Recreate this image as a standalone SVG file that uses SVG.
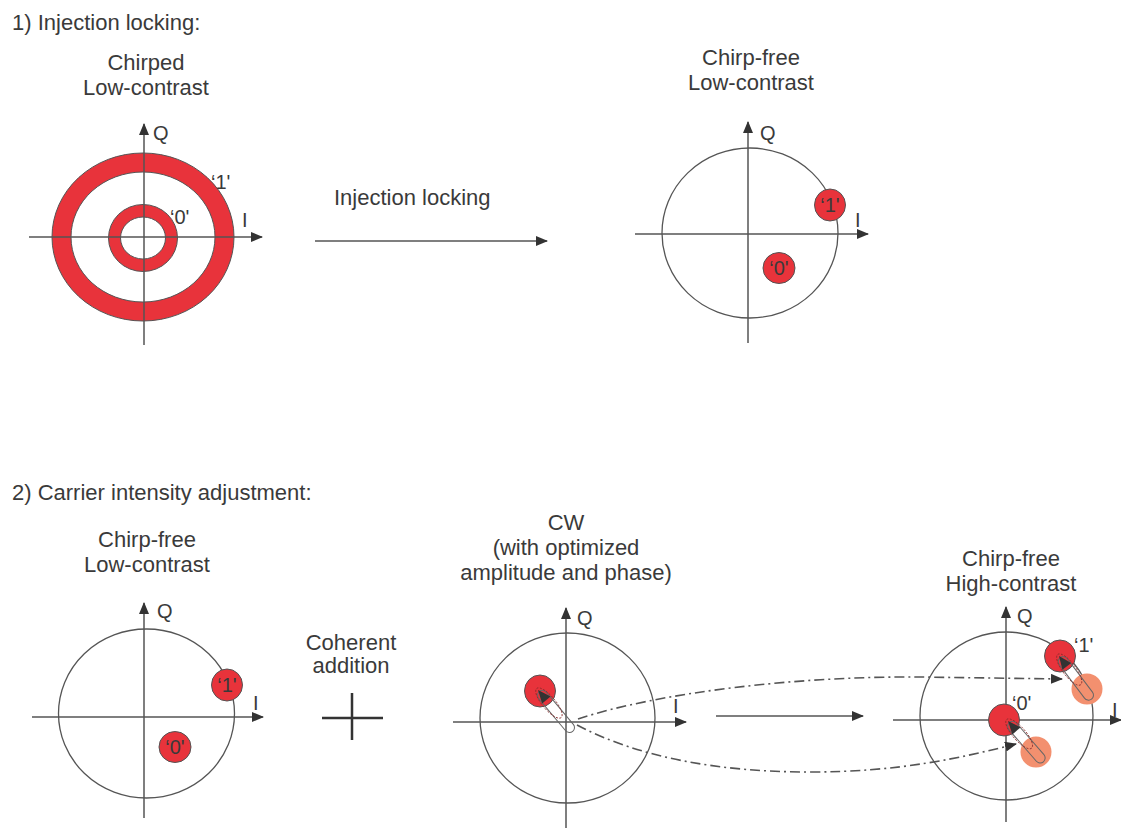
<svg xmlns="http://www.w3.org/2000/svg" xmlns:xlink="http://www.w3.org/1999/xlink" width="1121" height="828" viewBox="0 0 1121 828">
<style>
  text { font-family: "Liberation Sans", Arial, sans-serif; fill: #3a3a3a; }
  .t { font-size: 22px; }
  .c { text-anchor: middle; }
  .ax { font-size: 20px; }
  .q { font-size: 20px; }
  .axis { stroke: #555; stroke-width: 1.5; fill: none; }
  .circ { stroke: #555; stroke-width: 1.3; fill: none; }
  .red { fill: #E8333B; stroke: #555; stroke-width: 1; }
  .pale { fill: #F3906F; }
  .dd { stroke: #555; stroke-width: 1.6; fill: none; stroke-dasharray: 10 4 2 4; }
  .vcap { fill: none; stroke: #666; stroke-width: 1; }
  .vdash { fill: none; stroke: #8a2a2a; stroke-width: 0.9; stroke-dasharray: 2 1.5; }
  .vhead { fill: #333; }
</style>
<defs>
  <marker id="ah" viewBox="0 0 12 10" refX="11" refY="5" markerWidth="12" markerHeight="10" markerUnits="userSpaceOnUse" orient="auto">
    <path d="M0,0 L12,5 L0,10 Z" fill="#333"/>
  </marker>
  <g id="vec">
    <rect x="2" y="-5" width="52" height="10" rx="5" class="vcap"/>
    <ellipse cx="17" cy="0" rx="19" ry="6.5" class="vdash"/>
    <path d="M0,0 L13,-5.5 L13,5.5 Z" class="vhead"/>
  </g>
</defs>

<!-- Section titles -->
<text class="t" x="12" y="30">1) Injection locking:</text>
<text class="t" x="12" y="500">2) Carrier intensity adjustment:</text>

<!-- Top-left: chirped low-contrast -->
<g id="chirped">
  <text class="t c" x="146" y="70">Chirped</text>
  <text class="t c" x="146" y="95">Low-contrast</text>
  <path fill-rule="evenodd" class="red" d="M52,237 A91,84 0 1,0 234,237 A91,84 0 1,0 52,237 Z M71,237 A72,65 0 1,1 215,237 A72,65 0 1,1 71,237 Z"/>
  <path fill-rule="evenodd" class="red" d="M108.5,238 A34.5,33.5 0 1,0 177.5,238 A34.5,33.5 0 1,0 108.5,238 Z M120.5,238 A22.5,21 0 1,1 165.5,238 A22.5,21 0 1,1 120.5,238 Z"/>
  <line class="axis" x1="29" y1="237" x2="262" y2="237" marker-end="url(#ah)"/>
  <line class="axis" x1="144" y1="345" x2="144" y2="124" marker-end="url(#ah)"/>
  <text class="ax" x="153" y="140">Q</text>
  <text class="ax" x="242" y="227">I</text>
  <text class="q" x="211" y="189">‘1'</text>
  <text class="q" x="170" y="224">‘0'</text>
</g>

<!-- Top arrow label -->
<g id="inj-arrow">
  <text class="t" x="334" y="205">Injection locking</text>
</g>

<!-- Top-right: chirp-free low-contrast -->
<g id="chirpfree-top">
  <text class="t c" x="751" y="65">Chirp-free</text>
  <text class="t c" x="751" y="90">Low-contrast</text>
  <ellipse class="circ" cx="750" cy="233" rx="88" ry="85"/>
  <line class="axis" x1="635" y1="234" x2="868" y2="234" marker-end="url(#ah)"/>
  <line class="axis" x1="748" y1="343" x2="748" y2="122" marker-end="url(#ah)"/>
  <text class="ax" x="760" y="140">Q</text>
  <text class="ax" x="855" y="227">I</text>
  <ellipse class="red" cx="830" cy="205" rx="15.5" ry="16"/>
  <ellipse class="red" cx="779" cy="268" rx="16" ry="15.5"/>
  <text class="q c" x="830" y="212">‘1'</text>
  <text class="q c" x="779" y="275">‘0'</text>
</g>

<!-- Bottom-left: chirp-free low-contrast -->
<g id="chirpfree-bottom">
  <text class="t c" x="147" y="547">Chirp-free</text>
  <text class="t c" x="147" y="572">Low-contrast</text>
  <ellipse class="circ" cx="146.5" cy="713.5" rx="88" ry="84.5"/>
  <line class="axis" x1="32" y1="717" x2="263" y2="717" marker-end="url(#ah)"/>
  <line class="axis" x1="144" y1="818" x2="144" y2="603" marker-end="url(#ah)"/>
  <text class="ax" x="157" y="618">Q</text>
  <text class="ax" x="253" y="710">I</text>
  <ellipse class="red" cx="227" cy="685" rx="15.5" ry="16"/>
  <ellipse class="red" cx="175" cy="747" rx="16" ry="15.5"/>
  <text class="q c" x="227" y="692">‘1'</text>
  <text class="q c" x="175" y="754">‘0'</text>
</g>

<!-- Coherent addition -->
<g id="coherent">
  <text class="t c" x="351" y="650">Coherent</text>
  <text class="t c" x="351" y="673">addition</text>
  <path d="M322,718 H383 M352,693 V740" stroke="#333" stroke-width="2.5" fill="none"/>
</g>

<!-- CW -->
<g id="cw">
  <text class="t c" x="566" y="530">CW</text>
  <text class="t c" x="566" y="555">(with optimized</text>
  <text class="t c" x="566" y="580">amplitude and phase)</text>
  <ellipse class="circ" cx="567.5" cy="718" rx="87.5" ry="85"/>
  <line class="axis" x1="453" y1="722" x2="686" y2="722" marker-end="url(#ah)"/>
  <line class="axis" x1="566" y1="828" x2="566" y2="608" marker-end="url(#ah)"/>
  <text class="ax" x="577" y="625">Q</text>
  <text class="ax" x="673" y="713">I</text>
  <ellipse class="red" cx="540" cy="691" rx="15.5" ry="16"/>
  <use xlink:href="#vec" href="#vec" transform="translate(538,690) rotate(50)"/>
</g>

<!-- Right: chirp-free high-contrast -->
<g id="chirpfree-high">
  <text class="t c" x="1011" y="566">Chirp-free</text>
  <text class="t c" x="1011" y="591">High-contrast</text>
  <ellipse class="circ" cx="1006.5" cy="716" rx="86.5" ry="84"/>
  <line class="axis" x1="893" y1="720" x2="1121" y2="720" marker-end="url(#ah)"/>
  <line class="axis" x1="1006" y1="822" x2="1006" y2="607" marker-end="url(#ah)"/>
  <text class="ax" x="1017" y="623">Q</text>
  <text class="ax" x="1112" y="717">I</text>
  <circle class="pale" cx="1087" cy="689" r="15.5"/>
  <circle class="pale" cx="1036" cy="752" r="15.5"/>
  <ellipse class="red" cx="1060" cy="656" rx="15.5" ry="16"/>
  <ellipse class="red" cx="1004" cy="720" rx="15.5" ry="16"/>
  <use xlink:href="#vec" href="#vec" transform="translate(1059,656) rotate(53)"/>
  <use xlink:href="#vec" href="#vec" transform="translate(1008,721) rotate(49)"/>
  <text class="q" x="1074" y="652">‘1'</text>
  <text class="q" x="1012" y="710">‘0'</text>
</g>

<!-- Connectors -->
<g id="connectors">
  <line class="axis" x1="315" y1="241" x2="547" y2="241" marker-end="url(#ah)"/>
  <line class="axis" x1="716" y1="716" x2="863" y2="716" marker-end="url(#ah)"/>
  <path class="dd" d="M578,719 C660,692 800,676 920,677 L1062,679" marker-end="url(#ah)"/>
  <path class="dd" d="M577,725 C640,758 720,772 810,772 C900,772 960,758 1016,744" marker-end="url(#ah)"/>
</g>
</svg>
